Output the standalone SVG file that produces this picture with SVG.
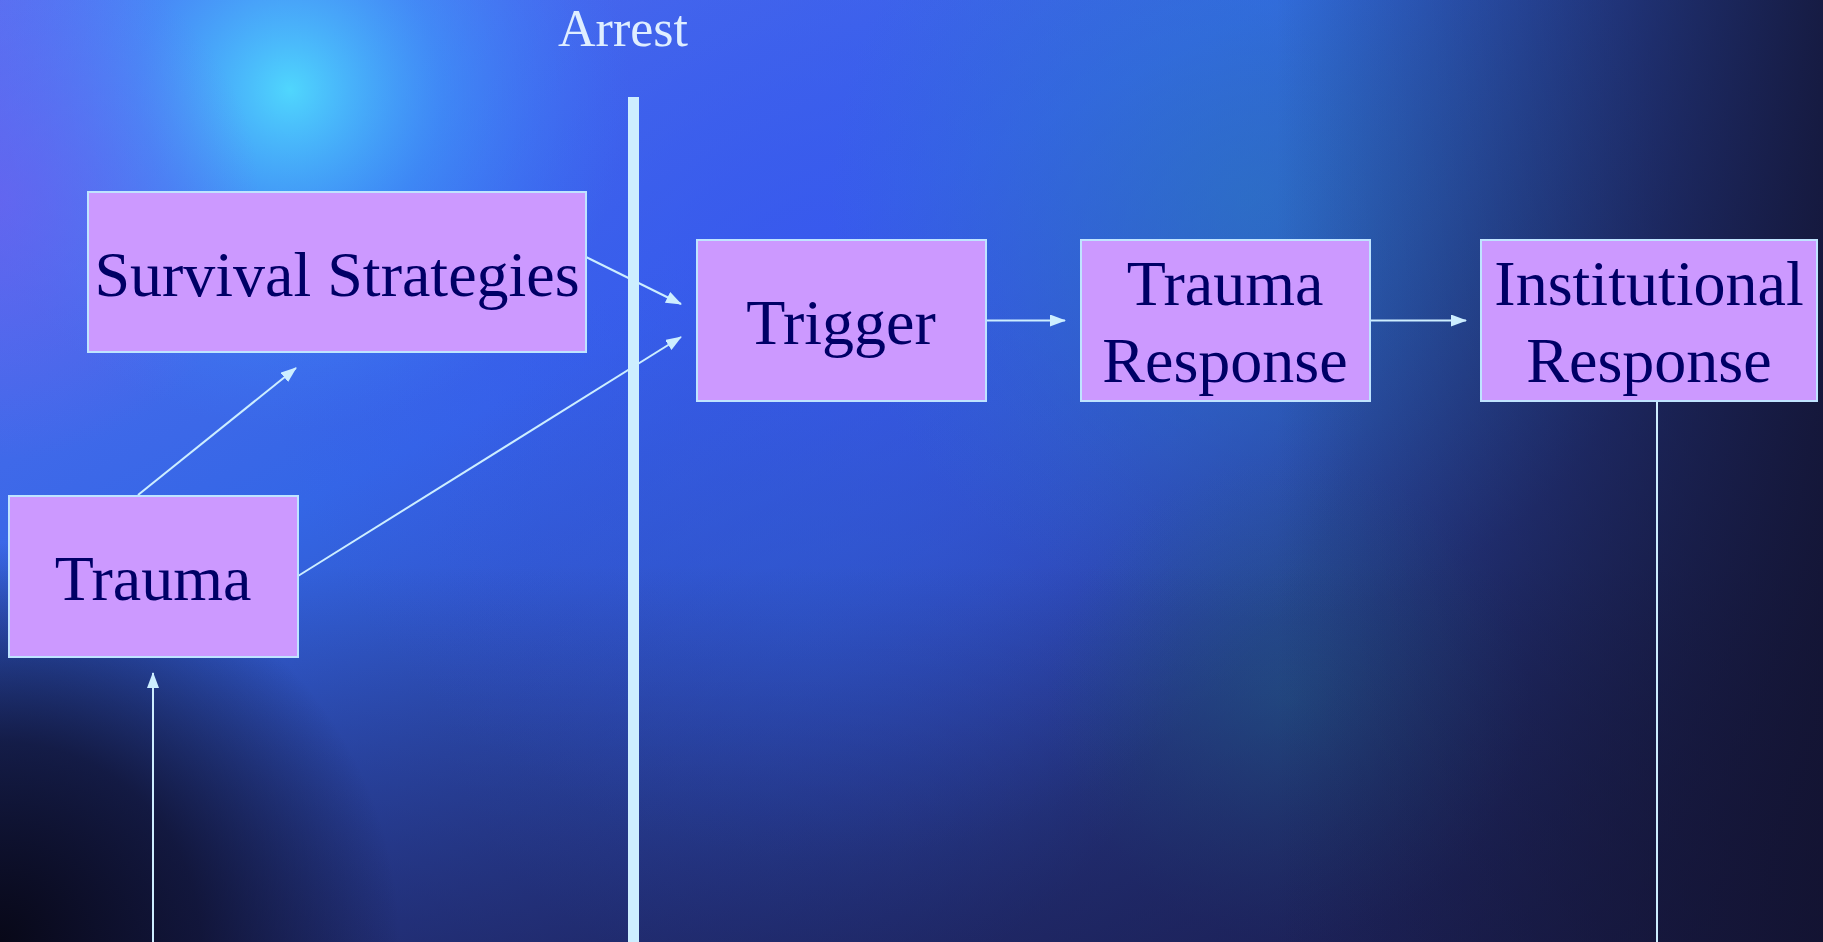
<svg xmlns="http://www.w3.org/2000/svg" width="1823" height="942" viewBox="0 0 1823 942">
<style>
.box{fill:#cc99ff;stroke:#bfe4ff;stroke-width:2}
.lbl{font-family:"Liberation Serif","Times New Roman",serif;font-size:64px;fill:#000066;text-anchor:middle}
.con{stroke:#cdeeff;stroke-width:2;fill:none}
</style>
<defs>
<marker id="ah" markerUnits="userSpaceOnUse" markerWidth="16" markerHeight="12" refX="15" refY="6" orient="auto">
<path d="M0,0 L16,6 L0,12 z" fill="#cdeeff"/>
</marker>
<linearGradient id="base" x1="0" y1="0" x2="1" y2="1">
<stop offset="0" stop-color="#5a70f0"/>
<stop offset="0.35" stop-color="#3466e6"/>
<stop offset="0.65" stop-color="#283e96"/>
<stop offset="1" stop-color="#17173a"/>
</linearGradient>
<radialGradient id="cyan" cx="290" cy="90" r="340" gradientUnits="userSpaceOnUse">
<stop offset="0" stop-color="#50e2ff" stop-opacity="0.9"/>
<stop offset="0.45" stop-color="#3aa8ff" stop-opacity="0.5"/>
<stop offset="1" stop-color="#3a80ff" stop-opacity="0"/>
</radialGradient>
<radialGradient id="blue2" cx="820" cy="300" r="560" gradientUnits="userSpaceOnUse">
<stop offset="0" stop-color="#3a55f0" stop-opacity="0.8"/>
<stop offset="1" stop-color="#3a55f0" stop-opacity="0"/>
</radialGradient>
<radialGradient id="teal" cx="1250" cy="200" r="420" gradientUnits="userSpaceOnUse">
<stop offset="0" stop-color="#2a7ac0" stop-opacity="0.6"/>
<stop offset="1" stop-color="#2a7ac0" stop-opacity="0"/>
</radialGradient>
<radialGradient id="teal2" cx="1290" cy="700" r="240" gradientUnits="userSpaceOnUse">
<stop offset="0" stop-color="#226a90" stop-opacity="0.5"/>
<stop offset="1" stop-color="#226a90" stop-opacity="0"/>
</radialGradient>
<radialGradient id="mid" cx="800" cy="620" r="380" gradientUnits="userSpaceOnUse">
<stop offset="0" stop-color="#2e5ad0" stop-opacity="0.6"/>
<stop offset="1" stop-color="#2e5ad0" stop-opacity="0"/>
</radialGradient>
<radialGradient id="darkbl" cx="0" cy="942" r="400" gradientUnits="userSpaceOnUse">
<stop offset="0" stop-color="#080818" stop-opacity="1"/>
<stop offset="0.5" stop-color="#0c0c24" stop-opacity="0.75"/>
<stop offset="1" stop-color="#0c0c24" stop-opacity="0"/>
</radialGradient>
<linearGradient id="darkr" x1="0" y1="0" x2="1" y2="0">
<stop offset="0.7" stop-color="#12122e" stop-opacity="0"/>
<stop offset="1" stop-color="#12122e" stop-opacity="0.85"/>
</linearGradient>
<linearGradient id="darkb" x1="0" y1="0" x2="0" y2="1">
<stop offset="0.6" stop-color="#1c2058" stop-opacity="0"/>
<stop offset="1" stop-color="#1c2058" stop-opacity="0.6"/>
</linearGradient>
<radialGradient id="purp" cx="0" cy="200" r="260" gradientUnits="userSpaceOnUse">
<stop offset="0" stop-color="#7060f0" stop-opacity="0.6"/>
<stop offset="1" stop-color="#7060f0" stop-opacity="0"/>
</radialGradient>
</defs>
<g id="background">
<rect width="1823" height="942" fill="url(#base)"/>
<rect width="1823" height="942" fill="url(#blue2)"/>
<rect width="1823" height="942" fill="url(#mid)"/>
<rect width="1823" height="942" fill="url(#teal)"/>
<rect width="1823" height="942" fill="url(#teal2)"/>
<rect width="1823" height="942" fill="url(#cyan)"/>
<rect width="1823" height="942" fill="url(#purp)"/>
<rect width="1823" height="942" fill="url(#darkb)"/>
<rect width="1823" height="942" fill="url(#darkr)"/>
<rect width="1823" height="942" fill="url(#darkbl)"/>
</g>
<g id="connectors">
<line class="con" x1="586" y1="257" x2="681" y2="304" marker-end="url(#ah)"/>
<line class="con" x1="298" y1="576" x2="681" y2="337" marker-end="url(#ah)"/>
<line class="con" x1="138" y1="495" x2="296" y2="368" marker-end="url(#ah)"/>
<line class="con" x1="153" y1="942" x2="153" y2="673" marker-end="url(#ah)"/>
<line class="con" x1="986" y1="320.5" x2="1065" y2="320.5" marker-end="url(#ah)"/>
<line class="con" x1="1370" y1="320.5" x2="1466" y2="320.5" marker-end="url(#ah)"/>
<line class="con" x1="1657" y1="401" x2="1657" y2="942"/>
</g>
<g id="arrest">
<rect x="628" y="97" width="11" height="845" fill="#cdeeff"/>
<text x="623" y="46" font-family="Liberation Serif, Times New Roman, serif" font-size="52" fill="#dfeeff" text-anchor="middle">Arrest</text>
</g>
<g id="survival">
<rect class="box" x="88" y="192" width="498" height="160"/>
<text class="lbl" x="337" y="296">Survival Strategies</text>
</g>
<g id="trauma">
<rect class="box" x="9" y="496" width="289" height="161"/>
<text class="lbl" x="153" y="600">Trauma</text>
</g>
<g id="trigger">
<rect class="box" x="697" y="240" width="289" height="161"/>
<text class="lbl" x="841" y="344">Trigger</text>
</g>
<g id="trauma-response">
<rect class="box" x="1081" y="240" width="289" height="161"/>
<text class="lbl" x="1225" y="305">Trauma</text>
<text class="lbl" x="1225" y="382">Response</text>
</g>
<g id="institutional-response">
<rect class="box" x="1481" y="240" width="336" height="161"/>
<text class="lbl" x="1649" y="305">Institutional</text>
<text class="lbl" x="1649" y="382">Response</text>
</g>
</svg>
